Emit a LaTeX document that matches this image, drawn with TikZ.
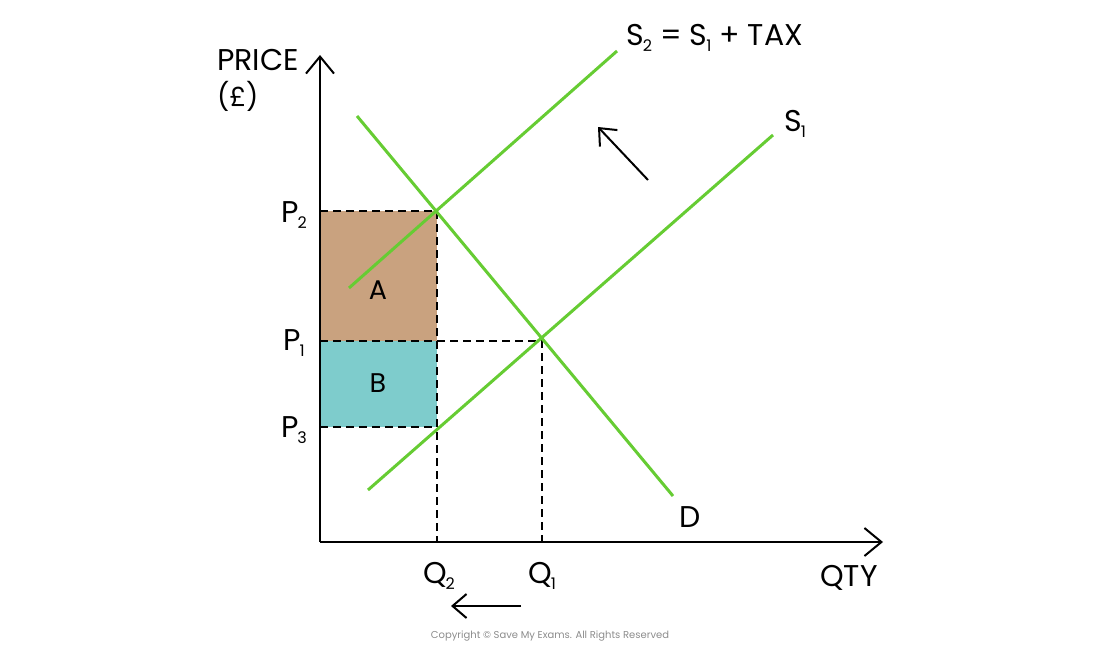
\documentclass[tikz,border=0pt]{standalone}
\usepackage{fontspec}
\setmainfont{Poppins}
\usetikzlibrary{arrows.meta}
\definecolor{sgreen}{HTML}{66CC33}
\definecolor{abrown}{HTML}{C9A27F}
\definecolor{bteal}{HTML}{7ECCCC}
\newcommand{\lsub}[1]{\kern-1pt\raisebox{-6pt}{\fontsize{16}{16}\selectfont #1}}
\tikzset{
  axis/.style={line width=2pt, -{Straight Barb[length=17pt,width=28pt,line width=2pt]}},
  curve/.style={sgreen, line width=3pt},
  guide/.style={black, line width=1.6pt, dash pattern=on 8pt off 5pt},
  movearrow/.style={line width=2pt, -{Straight Barb[length=14pt,width=24pt,line width=2pt]}},
  lbl/.style={font=\fontsize{30}{34}\selectfont, inner sep=0pt},
  rlbl/.style={font=\fontsize{27}{30}\selectfont, inner sep=0pt}
}
\begin{document}
\begin{tikzpicture}[x=1pt,y=-1pt]
\useasboundingbox (0,0) rectangle (1100,648);
% key points
\coordinate (O) at (320,542);
\coordinate (ytop) at (320,55);
\coordinate (xend) at (883,542);
\coordinate (p2) at (320,211);
\coordinate (p1) at (320,341);
\coordinate (p3) at (320,427);
\coordinate (e2) at (437,211);
\coordinate (e1) at (542,341);
\coordinate (t3) at (437,427);
\coordinate (m1) at (437,341);
\coordinate (q2) at (437,542);
\coordinate (q1) at (542,542);
% areas
\fill[abrown] (p2) rectangle (m1);
\fill[bteal] (p1) rectangle (t3);
% dashed guides
\draw[guide] (p2) -- (e2) -- (q2);
\draw[guide] (p1) -- (e1) -- (q1);
\draw[guide] (p3) -- (t3);
% curves
\draw[curve] (349,288) coordinate (s2a) -- (617,51) coordinate (s2b);
\draw[curve] (368,490) coordinate (s1a) -- (773,135) coordinate (s1b);
\draw[curve] (357,116) coordinate (da) -- (673,496) coordinate (db);
% axes
\draw[axis] (O) -- (ytop);
\draw[axis] (O) -- (xend);
% shift arrows
\coordinate (ua) at (648,180);
\coordinate (ub) at (598,127);
\draw[movearrow] (ua) -- (ub);
\coordinate (la) at (521,606);
\coordinate (lb) at (451,606);
\draw[movearrow] (la) -- (lb);
% labels
\node[lbl, anchor=west] (price) at (217,60) {PRICE};
\node[rlbl, anchor=west] (pound) at (217,96) {(£)};
\node[lbl] (lp2) at (294,215) {P\lsub{2}};
\node[lbl] (lp1) at (294,343) {P\lsub{1}};
\node[lbl] (lp3) at (294,430) {P\lsub{3}};
\node[rlbl] (la2) at (378,290) {A};
\node[rlbl] (lb2) at (378,383) {B};
\node[lbl] (lq2) at (439,576) {Q\lsub{2}};
\node[lbl] (lq1) at (542,576) {Q\lsub{1}};
\node[lbl] (lqty) at (849,578) {QTY};
\node[lbl] (ld) at (690,517) {D};
\node[lbl] (ls1) at (795,124) {S\lsub{1}};
\node[lbl, anchor=west] (ls2) at (626,38) {S\lsub{2} = S\lsub{1} + TAX};
\node[font=\fontsize{10}{12}\selectfont, text=black!45, inner sep=0pt] (copy) at (550,636) {Copyright © Save My Exams. All Rights Reserved};
\end{tikzpicture}
\end{document}
